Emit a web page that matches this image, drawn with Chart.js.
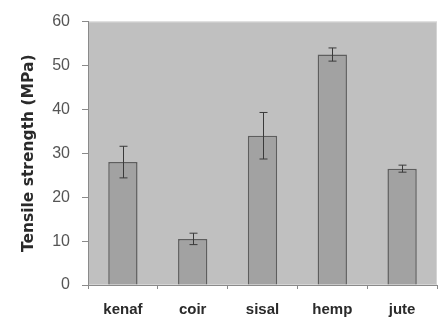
<!DOCTYPE html>
<html>
<head>
<meta charset="utf-8">
<script src="https://cdn.jsdelivr.net/npm/chart.js@4"></script>
<style>
  html, body { margin: 0; padding: 0; background: #ffffff; }
  #wrap { width: 438px; height: 324px; }
</style>
</head>
<body>
<div id="wrap"><canvas id="chart" width="438" height="324"></canvas></div>
<script>
// fibre types and tensile strength (MPa)
const fibres = ['kenaf', 'coir', 'sisal', 'hemp', 'jute'];
const strength = [28, 10.5, 34, 52.5, 26.5];
const strengthErr = [3.6, 1.3, 5.3, 1.5, 0.8];
const yTicks = [0, 10, 20, 30, 40, 50, 60];

// grey plot area behind the bars
const plotBackground = {
    id: 'plotBackground',
    beforeDraw: function(chart) {
        const a = chart.chartArea;
        const ctx = chart.ctx;
        ctx.save();
        ctx.fillStyle = '#c0c0c0';
        ctx.fillRect(a.left, a.top, a.right - a.left, a.bottom - a.top);
        ctx.strokeStyle = '#d4d4d4';
        ctx.lineWidth = 1;
        ctx.strokeRect(a.left + 0.5, a.top + 0.5, a.right - a.left - 1, a.bottom - a.top - 1);
        ctx.restore();
    }
};

// error bars drawn through the scales
const errorBars = {
    id: 'errorBars',
    afterDatasetsDraw: function(chart) {
        const ctx = chart.ctx;
        const meta = chart.getDatasetMeta(0);
        const y = chart.scales.y;
        ctx.save();
        ctx.strokeStyle = '#3a3a3a';
        ctx.lineWidth = 1;
        meta.data.forEach(function(bar, i) {
            const x = Math.round(bar.x) + 0.5;
            const hi = y.getPixelForValue(strength[i] + strengthErr[i]);
            const lo = y.getPixelForValue(strength[i] - strengthErr[i]);
            ctx.beginPath();
            ctx.moveTo(x, hi);
            ctx.lineTo(x, lo);
            ctx.moveTo(x - 4, hi);
            ctx.lineTo(x + 4, hi);
            ctx.moveTo(x - 4, lo);
            ctx.lineTo(x + 4, lo);
            ctx.stroke();
        });
        ctx.restore();
    }
};

const ctx = document.getElementById('chart').getContext('2d');
new Chart(ctx, {
    type: 'bar',
    data: {
        labels: fibres,
        datasets: [{
            data: strength,
            backgroundColor: '#a2a2a2',
            borderColor: '#5e5e5e',
            borderWidth: 1.5,
            categoryPercentage: 1,
            barPercentage: 0.42
        }]
    },
    options: {
        responsive: false,
        animation: false,
        devicePixelRatio: 1,
        layout: { padding: { top: 20, right: 1, left: 0, bottom: 0 } },
        plugins: {
            legend: { display: false },
            tooltip: { enabled: false }
        },
        scales: {
            x: {
                grid: {
                    offset: true,
                    drawOnChartArea: false,
                    drawTicks: true,
                    tickLength: 4,
                    color: '#8a8a8a'
                },
                border: { color: '#8a8a8a', width: 1 },
                ticks: {
                    color: '#2a2a2a',
                    padding: 12,
                    font: { family: 'Liberation Sans, Arial, sans-serif', size: 15, weight: 'bold' }
                },
                afterFit: function(scale) { scale.height = 39; }
            },
            y: {
                min: 0,
                max: 60,
                afterBuildTicks: function(scale) {
                    scale.ticks = yTicks.map(function(v) { return { value: v }; });
                },
                grid: {
                    drawOnChartArea: false,
                    drawTicks: true,
                    tickLength: 6,
                    color: '#8a8a8a'
                },
                border: { color: '#8a8a8a', width: 1 },
                ticks: {
                    color: '#555555',
                    padding: 12,
                    font: { family: 'Liberation Sans, Arial, sans-serif', size: 16 }
                },
                title: {
                    display: true,
                    text: 'Tensile strength (MPa)',
                    color: '#2a2a2a',
                    padding: { top: 20, bottom: 0 },
                    font: { family: 'DejaVu Sans, sans-serif', size: 15.5, weight: 'bold' }
                },
                afterFit: function(scale) { scale.width = 88; }
            }
        }
    },
    plugins: [plotBackground, errorBars]
});
</script>
</body>
</html>
